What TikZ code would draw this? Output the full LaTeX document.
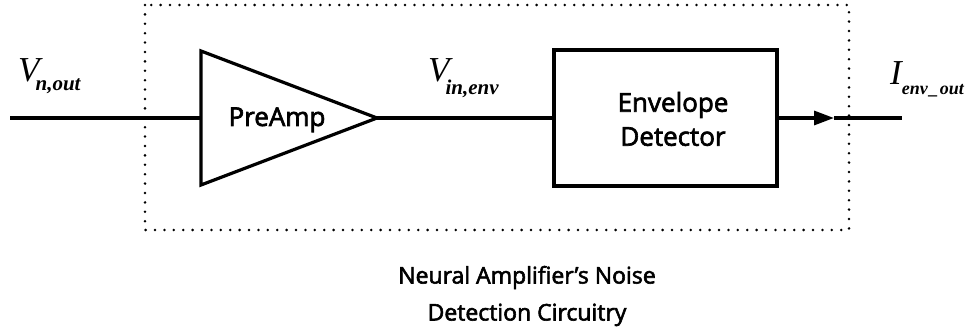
\documentclass[tikz,border=0pt]{standalone}
\usepackage{fontspec}
\setmainfont{Open Sans}
\newfontfamily\blockfont[FakeBold=2.5]{Open Sans}
\newfontfamily\sigserif{Liberation Serif}
\usetikzlibrary{arrows.meta}
\newcommand\siglab[5]{{\sigserif\itshape\fontsize{35}{35}\selectfont #1}\kern#3\raisebox{#4}{\sigserif\bfseries\itshape\fontsize{#5}{#5}\selectfont #2}}
\tikzset{
  wire/.style={line width=3.2pt},
  blockline/.style={line width=3.2pt, line join=miter},
  dotbox/.style={line width=2.8pt, dash pattern=on 0pt off 9.4pt, line cap=round},
  blocktext/.style={font=\blockfont\fontsize{26}{34}\selectfont, inner sep=0pt, align=center},
  captext/.style={font=\blockfont\fontsize{23}{37}\selectfont, inner sep=0pt, align=center},
  siglabel/.style={inner sep=0pt, anchor=base west}
}
\begin{document}
\begin{tikzpicture}[x=1pt,y=1pt]
\useasboundingbox (0,0) rectangle (977,332);
% dotted enclosure
\draw[dotbox] (145,327) rectangle (849,102);
% coordinates
\coordinate (in) at (10,214);
\coordinate (tl) at (201,281);
\coordinate (bl) at (201,147);
\coordinate (tip) at (377,214);
\coordinate (inA) at (201,214);
\coordinate (arrowtip) at (834,214);
\coordinate (out) at (902,214);
% preamp triangle
\draw[blockline] (tl) -- (tip) -- (bl) -- cycle;
\node[blocktext, anchor=base] (pre) at (277,206) {PreAmp};
% envelope detector box
\node[draw, blockline, minimum width=223pt, minimum height=136pt, inner sep=0pt] (env) at (665.5,214) {};
\node[blocktext] (envtxt) at (673,213) {Envelope\\Detector};
% wires
\draw[wire] (in) -- (inA);
\draw[wire] (tip) -- (env.west);
\draw[wire, -{Triangle[length=20pt,width=14pt]}] (env.east) -- (arrowtip);
\draw[wire] (arrowtip) -- (out);
% signal labels
\node[siglabel] (vn) at (18,250) {\siglab{V}{n,out}{-4pt}{-9pt}{21}};
\node[siglabel] (vin) at (428,250) {\siglab{V}{in,env}{-4pt}{-13pt}{21}};
\node[siglabel] (iout) at (890,247) {\siglab{I}{env\kern1.5pt\textunderscore\kern1.5pt out}{0pt}{-10pt}{18}};
% caption
\node[captext] (cap) at (527,36) {Neural Amplifier’s Noise\\Detection Circuitry};
\end{tikzpicture}
\end{document}
